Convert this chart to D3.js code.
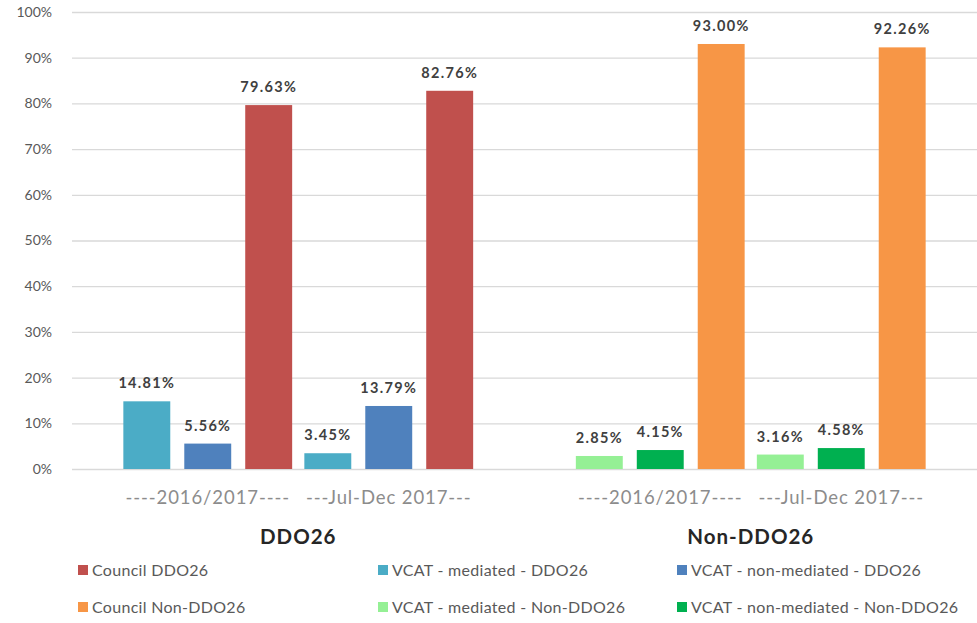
<!DOCTYPE html>
<html>
<head>
<meta charset="utf-8">
<script src="https://cdn.jsdelivr.net/npm/d3@7"></script>
<style>
  body { margin: 0; background: #fff; }
  svg { display: block; font-family: Lato, "Open Sans", sans-serif; }
</style>
</head>
<body>
<div id="chart"></div>
<script>
const groups = ["DDO26", "Non-DDO26"];
const periods = ["----2016/2017----", "---Jul-Dec 2017---"];
const slots = ["mediated", "nonMediated", "council"];

// values in %, one per period
const vcatMediatedDDO26 = [14.81, 3.45];
const vcatNonMediatedDDO26 = [5.56, 13.79];
const councilDDO26 = [79.63, 82.76];
const vcatMediatedNonDDO26 = [2.85, 3.16];
const vcatNonMediatedNonDDO26 = [4.15, 4.58];
const councilNonDDO26 = [93.00, 92.26];

const yTicks = [0, 10, 20, 30, 40, 50, 60, 70, 80, 90, 100];

const series = [
    { name: "Council DDO26", group: "DDO26", slot: "council", values: councilDDO26, color: "#c0504d" },
    { name: "VCAT - mediated - DDO26", group: "DDO26", slot: "mediated", values: vcatMediatedDDO26, color: "#4bacc6" },
    { name: "VCAT - non-mediated - DDO26", group: "DDO26", slot: "nonMediated", values: vcatNonMediatedDDO26, color: "#4f81bd" },
    { name: "Council Non-DDO26", group: "Non-DDO26", slot: "council", values: councilNonDDO26, color: "#f79646" },
    { name: "VCAT - mediated - Non-DDO26", group: "Non-DDO26", slot: "mediated", values: vcatMediatedNonDDO26, color: "#95f095" },
    { name: "VCAT - non-mediated - Non-DDO26", group: "Non-DDO26", slot: "nonMediated", values: vcatNonMediatedNonDDO26, color: "#00b050" }
];

const width = 977;
const height = 623;
const plotLeft = 72, plotRight = 977, plotTop = 12, plotBottom = 469;

const svg = d3.select("#chart").append("svg")
    .attr("width", width)
    .attr("height", height);

const yScale = d3.scaleLinear().domain([0, 100]).range([plotBottom, plotTop]);

const xGroup = d3.scaleBand().domain(groups).range([plotLeft, plotRight]).padding(0);
const xPeriod = d3.scaleBand().domain(d3.range(periods.length))
    .range([0, xGroup.bandwidth()]).paddingInner(0).paddingOuter(0.25);
const xSlot = d3.scaleBand().domain(slots)
    .range([0, xPeriod.bandwidth()]).paddingInner(0.23).paddingOuter(0.1);

// gridlines + y labels
const yAxis = d3.axisLeft(yScale)
    .tickValues(yTicks)
    .tickSize(-(plotRight - plotLeft))
    .tickPadding(20)
    .tickFormat(d => d + "%");

svg.append("g")
    .attr("transform", `translate(${plotLeft},0)`)
    .call(yAxis)
    .call(g => g.select(".domain").remove())
    .call(g => g.selectAll(".tick line").attr("stroke", "#d9d9d9").attr("stroke-width", 1.3))
    .call(g => g.selectAll(".tick text")
        .attr("fill", "#595959")
        .style("font-size", "14px")
        .style("font-family", "Lato, sans-serif"));

// bars
const bars = [];
series.forEach(s => {
    s.values.forEach((v, i) => {
        bars.push({ s, i, v });
    });
});

const barX = d => xGroup(d.s.group) + xPeriod(d.i) + xSlot(d.s.slot);

svg.append("g").selectAll("rect")
    .data(bars)
    .enter()
    .append("rect")
    .attr("x", barX)
    .attr("y", d => yScale(d.v))
    .attr("width", xSlot.bandwidth())
    .attr("height", d => yScale(0) - yScale(d.v))
    .attr("fill", d => d.s.color);

svg.append("g").selectAll("text")
    .data(bars)
    .enter()
    .append("text")
    .attr("x", d => barX(d) + xSlot.bandwidth() / 2)
    .attr("y", d => yScale(d.v) - 13)
    .attr("text-anchor", "middle")
    .attr("fill", "#404040")
    .style("font-size", "14.5px")
    .style("font-weight", "bold")
    .style("letter-spacing", "1.3px")
    .text(d => d.v.toFixed(2) + "%");

// period labels
groups.forEach(g => {
    periods.forEach((p, i) => {
        svg.append("text")
            .attr("x", xGroup(g) + xPeriod(i) + xPeriod.bandwidth() / 2)
            .attr("y", 504)
            .attr("text-anchor", "middle")
            .attr("fill", "#8c8c8c")
            .style("font-size", "18.5px")
            .style("letter-spacing", "0.9px")
            .text(p);
    });
    svg.append("text")
        .attr("x", xGroup(g) + xGroup.bandwidth() / 2)
        .attr("y", 544)
        .attr("text-anchor", "middle")
        .attr("fill", "#262626")
        .style("font-size", "20.5px")
        .style("font-weight", "bold")
        .style("letter-spacing", "1px")
        .text(g);
});

// legend
const legendCols = [78, 378, 677];
const legendRows = [570, 607];
const legendOrder = [
    "Council DDO26", "VCAT - mediated - DDO26", "VCAT - non-mediated - DDO26",
    "Council Non-DDO26", "VCAT - mediated - Non-DDO26", "VCAT - non-mediated - Non-DDO26"
];
legendOrder.forEach((name, k) => {
    const s = series.find(d => d.name === name);
    const x = legendCols[k % 3];
    const y = legendRows[Math.floor(k / 3)];
    svg.append("rect")
        .attr("x", x)
        .attr("y", y - 5)
        .attr("width", 10)
        .attr("height", 10)
        .attr("fill", s.color);
    svg.append("text")
        .attr("x", x + 14)
        .attr("y", y + 5.5)
        .attr("fill", "#595959")
        .style("font-size", "16px")
        .style("letter-spacing", "0.3px")
        .text(name);
});
</script>
</body>
</html>
